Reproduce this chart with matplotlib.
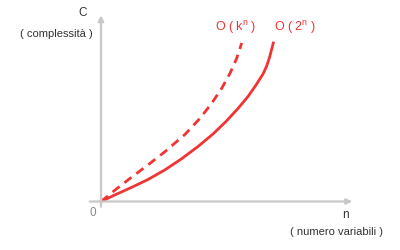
import matplotlib.pyplot as plt

# curve points, x measured right from origin, y up from origin
x_2n = [0, 13.7, 30.3, 47, 63.7, 80.3, 97, 112, 125, 137, 147, 155, 162, 165.5, 168.5, 172.3]
y_2n = [0, 6.5, 14, 22, 31.5, 42.5, 55, 67.5, 80, 93, 105, 116.5, 127.5, 135, 144, 158.5]
x_kn = [0, 13.7, 30.3, 47, 63.7, 84, 99, 110.7, 120.7, 129, 135.7, 140.7]
y_kn = [0, 11.2, 24.1, 36.6, 49.6, 67.1, 83.2, 98.2, 113.2, 128.2, 143.2, 158.5]

red = "#f03434"
gray = "#c8c8c8"

plt.rcParams["font.family"] = ["Liberation Sans", "DejaVu Sans"]
plt.rcParams["mathtext.fontset"] = "custom"
plt.rcParams["mathtext.rm"] = "Liberation Sans"

fig = plt.figure(figsize=(4, 2.5), dpi=100)
ax = fig.add_axes([0, 0, 1, 1])
ax.set_xlim(-101, 299)
ax.set_ylim(-48.5, 201.5)
ax.axis("off")

# axes with arrows
ax.annotate("", xy=(0, 189), xytext=(0, -8),
            arrowprops=dict(arrowstyle="-|>", color=gray, lw=1.6, mutation_scale=8))
ax.annotate("", xy=(254, 0), xytext=(-14, 0),
            arrowprops=dict(arrowstyle="-|>", color=gray, lw=1.6, mutation_scale=8))

ax.plot(x_kn, y_kn, color=red, lw=2, ls=(0, (3.2, 2.2)), solid_joinstyle="round")
ax.plot(x_2n, y_2n, color=red, lw=2, solid_joinstyle="round")

ax.text(135, 174, r"O ( k$^{\mathrm{n}}$ )", color=red, fontsize=9, ha="center", va="center")
ax.text(194, 174, r"O ( 2$^{\mathrm{n}}$ )", color=red, fontsize=9, ha="center", va="center")

ax.text(-18, 188.5, "C", color="#333333", fontsize=8.5, ha="center", va="center")
ax.text(-45, 167.5, "( complessità )", color="#333333", fontsize=8, ha="center", va="center")
ax.text(-8, -11.5, "0", color="#888888", fontsize=8.5, ha="center", va="center")
ax.text(244, -13.5, "n", color="#333333", fontsize=8.5, ha="center", va="center")
ax.text(236, -30.5, "( numero variabili )", color="#333333", fontsize=8, ha="center", va="center")

fig.savefig("out.png", dpi=100)
